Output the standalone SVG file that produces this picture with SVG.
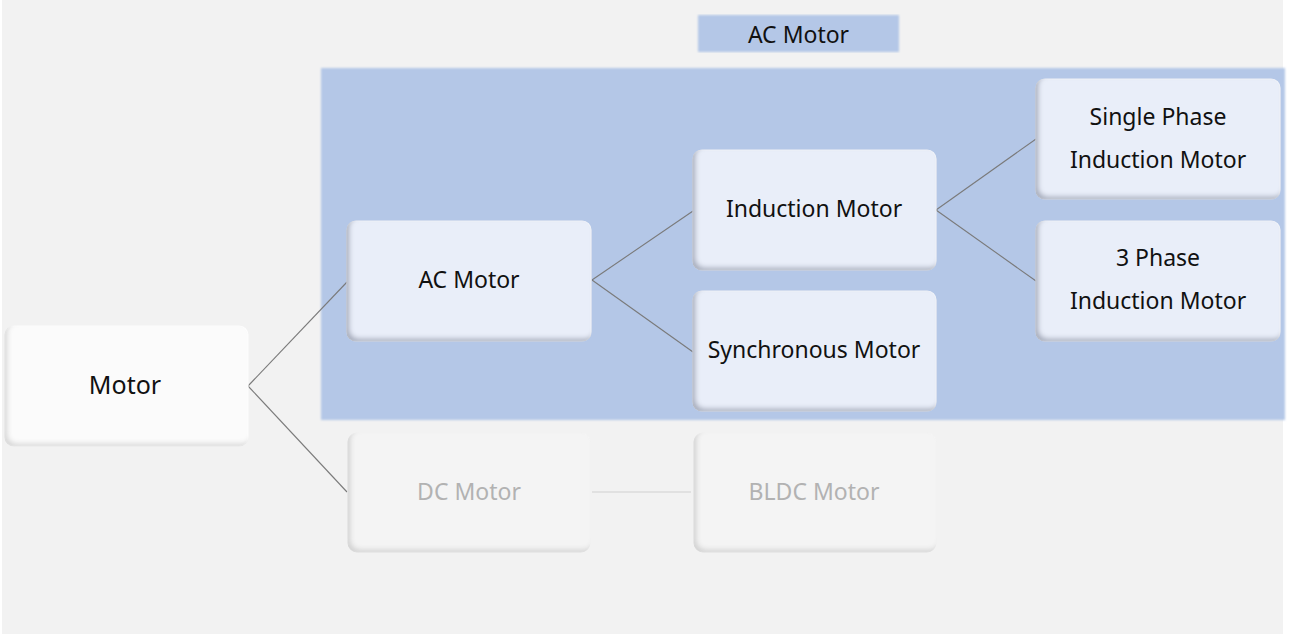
<svg xmlns="http://www.w3.org/2000/svg" width="1291" height="634" viewBox="0 0 1291 634">
<style>
.t{font-family:"Noto Sans","Open Sans","Liberation Sans",sans-serif;font-size:23px;text-anchor:middle;dominant-baseline:central;fill:#111}
.f{fill:#b2b2b2}
.n{fill:#e9eef9;stroke:#f4f6fb;stroke-width:1.2}
.w{fill:#fbfbfb;stroke:#ffffff;stroke-width:1.2}
.g{fill:#f4f4f4;stroke:#f6f6f6;stroke-width:1}
.c{stroke:#7a7a7a;stroke-width:1.1;fill:none}
</style>
<defs>
<filter id="bev" x="-5%" y="-5%" width="110%" height="110%">
<feFlood flood-color="#6f7890" flood-opacity="0.65"/>
<feComposite in2="SourceAlpha" operator="out"/>
<feGaussianBlur stdDeviation="2.4"/>
<feOffset dx="3" dy="-3.5"/>
<feComposite in2="SourceAlpha" operator="in" result="s"/>
<feMerge><feMergeNode in="SourceGraphic"/><feMergeNode in="s"/></feMerge>
</filter>
<filter id="bevl" x="-5%" y="-5%" width="110%" height="110%">
<feFlood flood-color="#a0a0a0" flood-opacity="0.45"/>
<feComposite in2="SourceAlpha" operator="out"/>
<feGaussianBlur stdDeviation="2.4"/>
<feOffset dx="3" dy="-3.5"/>
<feComposite in2="SourceAlpha" operator="in" result="s"/>
<feMerge><feMergeNode in="SourceGraphic"/><feMergeNode in="s"/></feMerge>
</filter>
<filter id="soft" x="-2%" y="-2%" width="104%" height="104%">
<feGaussianBlur stdDeviation="1.2"/>
</filter>
</defs>
<rect width="1291" height="634" fill="#ffffff"/>
<rect x="2" y="0" width="1281" height="634" fill="#f2f2f2"/>
<rect id="panel" x="321" y="68" width="964" height="352" fill="#b4c7e7" filter="url(#soft)"/>
<g id="label-ac">
<rect x="698" y="15" width="201" height="37" fill="#b4c7e7" filter="url(#soft)"/>
<text class="t" x="798.5" y="34">AC Motor</text>
</g>
<g id="connectors">
<line class="c" x1="248" y1="386" x2="347" y2="282"/>
<line class="c" x1="248" y1="386" x2="347" y2="492"/>
<line class="c" x1="592" y1="280" x2="693" y2="211"/>
<line class="c" x1="592" y1="280" x2="693" y2="352"/>
<line class="c" x1="936" y1="210" x2="1036" y2="139"/>
<line class="c" x1="936" y1="210" x2="1036" y2="281"/>
<line x1="592" y1="492" x2="691" y2="492" stroke="#d0d0d0" stroke-width="1.2"/>
</g>
<g id="motor">
<rect class="w" x="5" y="326" width="243" height="120" rx="9" filter="url(#bevl)"/>
<text class="t" x="125" y="384" style="font-size:25px">Motor</text>
</g>
<g id="ac-motor">
<rect class="n" x="347" y="221" width="244" height="120" rx="9" filter="url(#bev)"/>
<text class="t" x="469" y="279">AC Motor</text>
</g>
<g id="induction-motor">
<rect class="n" x="693" y="150" width="243" height="120" rx="9" filter="url(#bev)"/>
<text class="t" x="814" y="208">Induction Motor</text>
</g>
<g id="synchronous-motor">
<rect class="n" x="693" y="291" width="243" height="120" rx="9" filter="url(#bev)"/>
<text class="t" x="814" y="349">Synchronous Motor</text>
</g>
<g id="single-phase">
<rect class="n" x="1036" y="79" width="244" height="120" rx="9" filter="url(#bev)"/>
<text class="t" x="1158" y="116">Single Phase</text>
<text class="t" x="1158" y="159">Induction Motor</text>
</g>
<g id="three-phase">
<rect class="n" x="1036" y="221" width="244" height="120" rx="9" filter="url(#bev)"/>
<text class="t" x="1158" y="257">3 Phase</text>
<text class="t" x="1158" y="300">Induction Motor</text>
</g>
<g id="dc-motor">
<rect class="g" x="348" y="433" width="242" height="119" rx="9" filter="url(#bevl)"/>
<text class="t f" x="469" y="491">DC Motor</text>
</g>
<g id="bldc-motor">
<rect class="g" x="694" y="433" width="242" height="119" rx="9" filter="url(#bevl)"/>
<text class="t f" x="814" y="491">BLDC Motor</text>
</g>
</svg>
